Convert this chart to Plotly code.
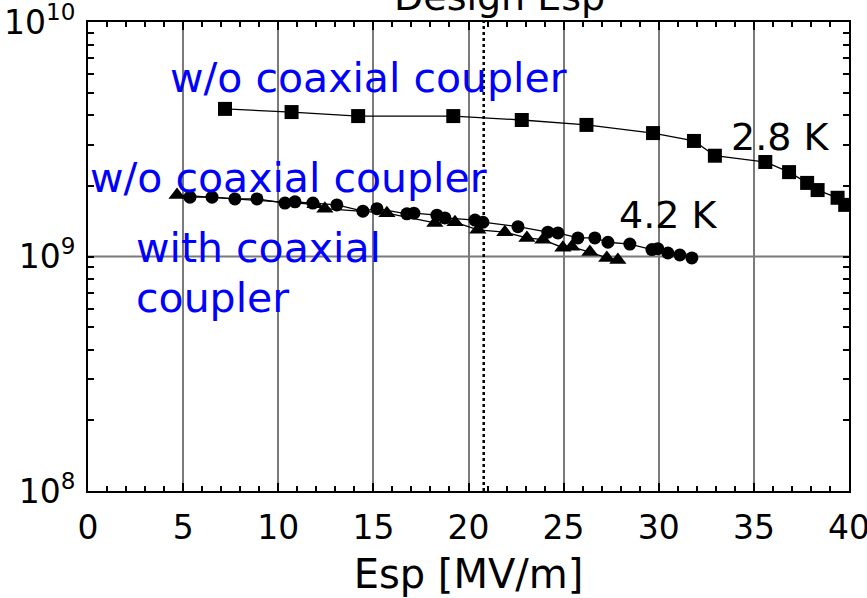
import plotly.graph_objects as go

# 2.8 K, w/o coaxial coupler (squares)
esp_28 = [7.2, 10.7, 14.2, 19.2, 22.8, 26.2, 29.7, 31.85, 32.95, 35.6, 36.85, 37.8, 38.35, 39.4, 39.8]
q0_28 = [4.26e9, 4.13e9, 3.97e9, 3.97e9, 3.82e9, 3.64e9, 3.36e9, 3.11e9, 2.69e9, 2.53e9, 2.29e9, 2.06e9, 1.92e9, 1.78e9, 1.66e9]

# 4.2 K, w/o coaxial coupler (circles)
esp_42 = [5.36, 6.52, 7.72, 8.88, 10.35, 10.88, 11.82, 13.08, 14.45, 15.19, 16.76, 17.13, 18.34, 18.76,
          20.34, 20.76, 22.6, 24.17, 24.7, 25.75, 26.64, 27.33, 28.48, 29.64, 29.95, 30.48, 31.11, 31.74]
q0_42 = [1.79e9, 1.79e9, 1.76e9, 1.76e9, 1.69e9, 1.71e9, 1.69e9, 1.66e9, 1.56e9, 1.60e9, 1.52e9, 1.53e9, 1.50e9, 1.46e9,
         1.43e9, 1.40e9, 1.34e9, 1.27e9, 1.26e9, 1.20e9, 1.20e9, 1.15e9, 1.13e9, 1.07e9, 1.08e9, 1.035e9, 1.015e9, 0.986e9]

# 4.2 K, with coaxial coupler (triangles)
esp_cc = [4.68, 11.93, 12.45, 15.71, 18.23, 19.29, 20.49, 21.91, 23.07, 23.91, 24.96, 25.43, 26.38, 27.27, 27.85]
q0_cc = [1.83e9, 1.67e9, 1.60e9, 1.53e9, 1.39e9, 1.40e9, 1.30e9, 1.27e9, 1.20e9, 1.18e9, 1.09e9, 1.10e9, 1.045e9, 0.986e9, 0.967e9]

design_esp = 20.8

x_ticks = [0, 5, 10, 15, 20, 25, 30, 35, 40]
y_decades = [8, 9, 10]

FONT = "DejaVu Sans"
BLUE = "#0000ff"

fig = go.Figure()
fig.add_trace(go.Scatter(x=esp_28, y=q0_28, mode="lines+markers",
                         line=dict(color="black", width=1.3),
                         marker=dict(symbol="square", size=14, color="black")))
fig.add_trace(go.Scatter(x=esp_42, y=q0_42, mode="lines+markers",
                         line=dict(color="black", width=1.3),
                         marker=dict(symbol="circle", size=13, color="black")))
fig.add_trace(go.Scatter(x=esp_cc, y=q0_cc, mode="lines+markers",
                         line=dict(color="black", width=1.3),
                         marker=dict(symbol="triangle-up", size=15, color="black")))

# y ticks: decades labelled, minors unlabelled
yvals, ytext = [], []
for d in y_decades:
    for m in range(1, 10):
        if d == y_decades[-1] and m > 1:
            break
        yvals.append(m * 10 ** d)
        ytext.append(f"10<sup>{d}</sup>" if m == 1 else "")

fig.update_layout(
    width=867, height=598,
    margin=dict(l=88, r=18, t=22, b=107),
    paper_bgcolor="white", plot_bgcolor="white",
    showlegend=False,
    font=dict(family=FONT, color="black", size=32),
    xaxis=dict(
        range=[0, 40], tickvals=x_ticks, ticktext=[str(v) for v in x_ticks],
        ticks="inside", ticklen=8, tickwidth=2, tickcolor="black",
        showline=True, linecolor="black", linewidth=2, mirror="allticks",
        showgrid=True, gridcolor="#7a7a7a", gridwidth=2,
        minor=dict(dtick=1, ticks="inside", ticklen=5, tickwidth=1.5, tickcolor="black", showgrid=False),
        tickfont=dict(size=33), ticklabelstandoff=6, ticklabeloverflow="allow",
        title=dict(text="Esp [MV/m]", font=dict(size=40), standoff=14),
        zeroline=False, automargin=False,
    ),
    yaxis=dict(
        type="log", range=[8, 10], tickmode="array", tickvals=yvals, ticktext=ytext,
        ticks="inside", ticklen=6, tickwidth=1.5, tickcolor="black",
        showline=True, linecolor="black", linewidth=2, mirror="allticks",
        showgrid=False, tickfont=dict(size=33), ticklabelstandoff=4, ticklabeloverflow="allow",
        zeroline=False, automargin=False,
    ),
)

# horizontal grid line at 1e9
fig.add_shape(type="line", xref="paper", x0=0, x1=1, yref="y", y0=1e9, y1=1e9,
              line=dict(color="#7a7a7a", width=2), layer="below")
# design Esp dotted line
fig.add_shape(type="line", xref="x", x0=design_esp, x1=design_esp, yref="paper", y0=0, y1=1,
              line=dict(color="black", width=2.5, dash="dot"))

ann = [
    ("w/o coaxial coupler", 4.2, 9.761, BLUE, 41),
    ("2.8 K", 33.7, 9.510, "black", 38),
    ("w/o coaxial coupler", 0.0, 9.335, BLUE, 41),
    ("4.2 K", 27.8, 9.177, "black", 38),
    ("with coaxial", 2.4, 9.036, BLUE, 41),
    ("coupler", 2.4, 8.823, BLUE, 41),
]
for text, x, y, col, sz in ann:
    fig.add_annotation(text=text, x=x, y=y, xref="x", yref="y", xanchor="left", yanchor="middle",
                       showarrow=False, font=dict(color=col, size=sz, family=FONT))

fig.add_annotation(text="Design Esp", x=21.65, xref="x", y=1.053, yref="paper",
                   xanchor="center", yanchor="middle", showarrow=False,
                   font=dict(size=38, color="black", family=FONT))

fig.write_html("out.html")
